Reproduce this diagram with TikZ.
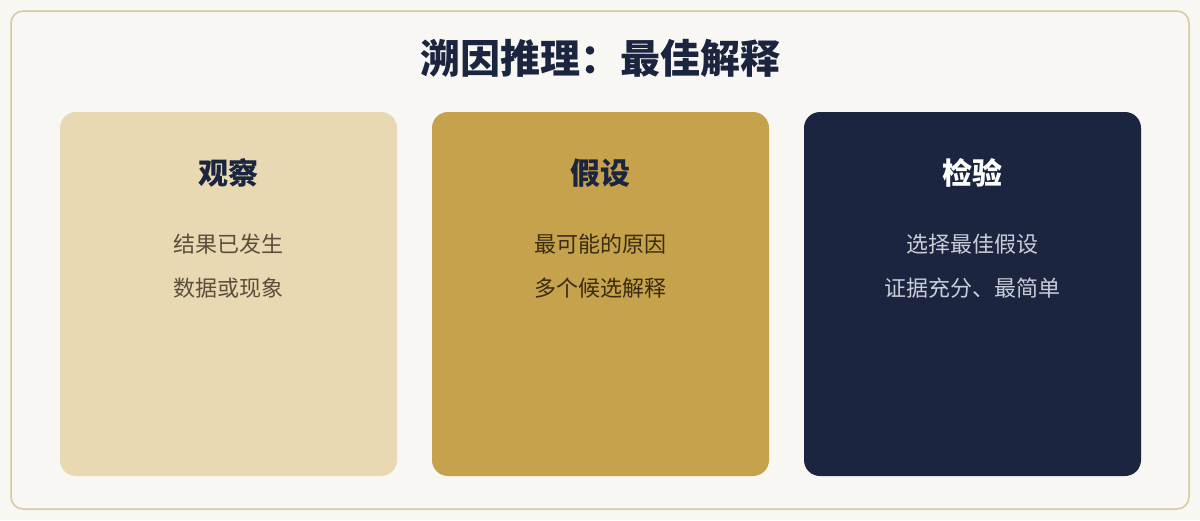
\documentclass[tikz,border=0pt]{standalone}
\usepackage{fontspec}
\setmainfont{Noto Sans CJK SC}
\newfontfamily\cjk{Noto Sans CJK SC}
\definecolor{bgc}{HTML}{F9F7F3}
\definecolor{framec}{HTML}{D8C89B}
\definecolor{navy}{HTML}{1B2540}
\definecolor{sand}{HTML}{E8D9B2}
\definecolor{gold}{HTML}{C5A24B}
\definecolor{bodyA}{HTML}{5C4E3C}
\definecolor{bodyB}{HTML}{3A2C10}
\definecolor{bodyC}{HTML}{C9CDD8}
\tikzset{
  card/.style={rounded corners=16pt, draw=none},
  ttl/.style={font=\cjk\bfseries\fontsize{30}{34}\selectfont, anchor=center},
  body/.style={font=\cjk\fontsize{22}{26}\selectfont, anchor=center},
}
\begin{document}
\begin{tikzpicture}[x=1pt,y=-1pt]
\fill[bgc] (0,0) rectangle (1200,520);
\useasboundingbox (0,0) rectangle (1200,520);
\draw[framec, line width=1.5pt, rounded corners=12pt] (11,11) rectangle (1189,509);
\node[font=\cjk\bfseries\fontsize{40}{46}\selectfont, text=navy] (title) at (600,58) {溯因推理：最佳解释};
% cards
\fill[sand, card] (60,112) rectangle (397,476);
\fill[gold, card] (432,112) rectangle (769,476);
\fill[navy, card] (804,112) rectangle (1141,476);
\node[ttl, text=navy] (t1) at (228.5,173) {观察};
\node[body, text=bodyA] (a1) at (228.5,244) {结果已发生};
\node[body, text=bodyA] (a2) at (228.5,288) {数据或现象};
\node[ttl, text=navy] (t2) at (600.5,173) {假设};
\node[body, text=bodyB] (b1) at (600.5,244) {最可能的原因};
\node[body, text=bodyB] (b2) at (600.5,288) {多个候选解释};
\node[ttl, text=white] (t3) at (972.5,173) {检验};
\node[body, text=bodyC] (c1) at (972.5,244) {选择最佳假设};
\node[body, text=bodyC] (c2) at (972.5,288) {证据充分、最简单};
\end{tikzpicture}
\end{document}
